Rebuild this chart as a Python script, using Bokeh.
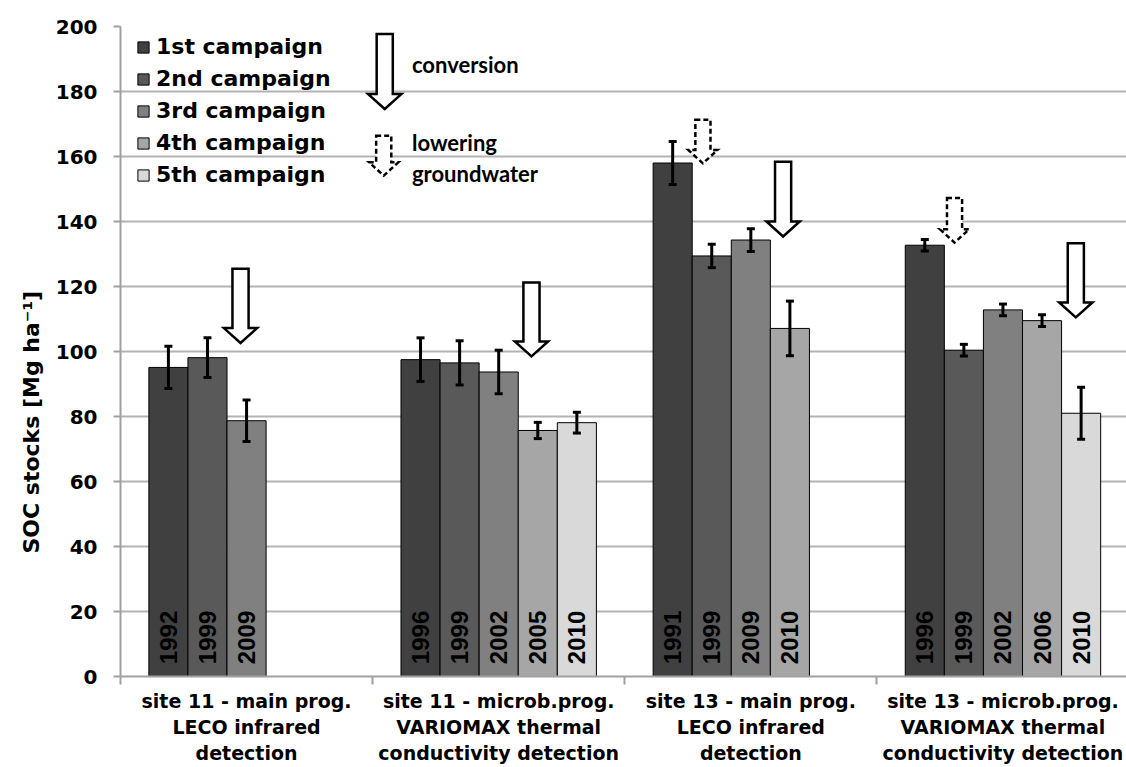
import math
from bokeh.plotting import figure
from bokeh.models import (ColumnDataSource, FixedTicker, Whisker, TeeHead,
                          Legend, LegendItem, Range1d, Title)
from bokeh.core.properties import value
from bokeh.embed import file_html
from bokeh.resources import INLINE

# ---------------- data ----------------
categories = [
    "site 11 - main prog.\nLECO infrared\ndetection",
    "site 11 - microb.prog.\nVARIOMAX thermal\nconductivity detection",
    "site 13 - main prog.\nLECO infrared\ndetection",
    "site 13 - microb.prog.\nVARIOMAX thermal\nconductivity detection",
]
campaigns = ["1st campaign", "2nd campaign", "3rd campaign", "4th campaign", "5th campaign"]
campaign_colors = ["#404040", "#595959", "#808080", "#a6a6a6", "#d9d9d9"]

bar_group = [0, 0, 0, 1, 1, 1, 1, 1, 2, 2, 2, 2, 3, 3, 3, 3, 3]
bar_campaign = [0, 1, 2, 0, 1, 2, 3, 4, 0, 1, 2, 3, 0, 1, 2, 3, 4]
bar_year = ["1992", "1999", "2009",
            "1996", "1999", "2002", "2005", "2010",
            "1991", "1999", "2009", "2010",
            "1996", "1999", "2002", "2006", "2010"]
soc = [95.1, 98.1, 78.7,
       97.5, 96.5, 93.7, 75.7, 78.1,
       158.0, 129.4, 134.3, 107.1,
       132.7, 100.4, 112.8, 109.5, 81.0]
soc_err = [6.5, 6.1, 6.4,
           6.7, 6.8, 6.7, 2.5, 3.2,
           6.6, 3.6, 3.5, 8.4,
           1.8, 1.8, 1.8, 1.8, 8.0]
y_ticks = [0, 20, 40, 60, 80, 100, 120, 140, 160, 180, 200]
y_title = "SOC stocks [Mg ha\u207b\u00b9]"

# annotation arrows (x in category units, top / tip in Mg ha-1)
conv_x = [0.476, 1.630, 2.628, 3.789]
conv_top = [125.5, 121.2, 158.4, 133.3]
conv_tip = [102.6, 98.5, 135.4, 110.5]
gw_x = [2.310, 3.308]
gw_top = [171.3, 147.2]
gw_tip = [157.9, 133.5]
# legend-side arrows and notes
key_conv = (1.048, 197.7, 174.6)
key_gw = (1.044, 166.4, 154.1)
note_x = 1.156
notes = ["conversion", "lowering", "groundwater"]
note_y = [188.4, 164.2, 154.9]

# ---------------- figure ----------------
BAR_W = 0.155
p = figure(width=1126, height=767, output_backend="svg", toolbar_location=None,
           x_range=Range1d(0, 3.99), y_range=Range1d(0, 200),
           min_border_left=120, min_border_right=0, min_border_top=26,
           min_border_bottom=91)
p.outline_line_color = None
p.background_fill_color = "white"

FONT = "DejaVu Sans"
GRID = "#b3b3b3"
AX = "#a0a0a0"

p.ygrid.grid_line_color = GRID
p.ygrid.grid_line_width = 2
p.xgrid.grid_line_color = None

p.yaxis.ticker = FixedTicker(ticks=y_ticks)
p.yaxis.major_label_text_font = FONT
p.yaxis.major_label_text_font_style = "bold"
p.yaxis.major_label_text_font_size = "20px"
p.yaxis.major_label_text_color = "black"
p.yaxis.major_tick_out = 7
p.yaxis.major_tick_in = 0
p.yaxis.minor_tick_out = 0
p.yaxis.minor_tick_in = 0
p.yaxis.major_label_standoff = 16
p.yaxis.axis_line_color = AX
p.yaxis.axis_line_width = 2
p.yaxis.major_tick_line_color = AX
p.yaxis.major_tick_line_width = 2

# y-axis title, placed lower than centre as in the original
p.add_layout(Title(text=y_title, align="left", offset=123, standoff=18,
                   text_font=FONT, text_font_style="bold",
                   text_font_size="22px", text_color="black"), "left")

centers = [i + 0.5 for i in range(len(categories))]
p.xaxis.ticker = FixedTicker(ticks=centers, minor_ticks=list(range(len(categories) + 1)))
p.xaxis.major_label_overrides = {c: lab for c, lab in zip(centers, categories)}
p.xaxis.major_label_text_font = FONT
p.xaxis.major_label_text_font_style = "bold"
p.xaxis.major_label_text_font_size = "19px"
p.xaxis.major_label_text_color = "black"
p.xaxis.major_tick_out = 0
p.xaxis.major_tick_in = 0
p.xaxis.minor_tick_out = 8
p.xaxis.minor_tick_in = 0
p.xaxis.minor_tick_line_color = AX
p.xaxis.minor_tick_line_width = 2
p.xaxis.major_label_standoff = 5
p.xaxis.axis_line_color = AX
p.xaxis.axis_line_width = 2

# ---------------- bars ----------------
bar_x = [g + 0.5 + (c - 2) * BAR_W for g, c in zip(bar_group, bar_campaign)]

legend_items = []
for ci, (name, col) in enumerate(zip(campaigns, campaign_colors)):
    idx = [i for i, c in enumerate(bar_campaign) if c == ci]
    src = ColumnDataSource(dict(x=[bar_x[i] for i in idx], top=[soc[i] for i in idx]))
    r = p.vbar(x="x", top="top", width=BAR_W, bottom=0, source=src,
               fill_color=col, line_color="black", line_width=1)
    legend_items.append(LegendItem(label=name, renderers=[r]))

err_src = ColumnDataSource(dict(
    x=bar_x,
    upper=[v + e for v, e in zip(soc, soc_err)],
    lower=[v - e for v, e in zip(soc, soc_err)],
))
whisk = Whisker(base="x", upper="upper", lower="lower", source=err_src,
                line_color="black", line_width=3, level="annotation",
                upper_head=TeeHead(size=8, line_width=3, line_color="black"),
                lower_head=TeeHead(size=8, line_width=3, line_color="black"))
p.add_layout(whisk)

year_src = ColumnDataSource(dict(x=bar_x, y=[3.8] * len(bar_x), t=bar_year))
p.text(x="x", y="y", text="t", source=year_src, angle=math.pi / 2,
       text_align="left", text_baseline="middle",
       text_font=value("Liberation Sans"), text_font_style="bold",
       text_font_size="24px", text_color="black")

# ---------------- arrows ----------------
def arrow(xc, top, tip, sw, hw, hh):
    base = tip + hh
    xs = [xc - sw, xc + sw, xc + sw, xc + hw, xc, xc - hw, xc - sw]
    ys = [top, top, base, base, tip, base, base]
    return xs, ys

cxs, cys = [], []
for xc, t, tp in list(zip(conv_x, conv_top, conv_tip)) + [key_conv]:
    a, b = arrow(xc, t, tp, 0.032, 0.066, 4.6)
    cxs.append(a); cys.append(b)
p.patches(cxs, cys, fill_color="white", line_color="black", line_width=2.5,
          line_join="miter")

gxs, gys = [], []
for xc, t, tp in list(zip(gw_x, gw_top, gw_tip)) + [key_gw]:
    a, b = arrow(xc, t, tp, 0.030, 0.058, 4.1)
    gxs.append(a); gys.append(b)
p.patches(gxs, gys, fill_color="white", line_color="black", line_width=2.5,
          line_dash="5 3", line_join="miter")

note_src = ColumnDataSource(dict(x=[note_x] * len(notes), y=note_y, t=notes))
p.text(x="x", y="y", text="t", source=note_src, text_align="left",
       text_baseline="alphabetic", text_font=value("Lato"),
       text_font_style="bold", text_font_size="22px", text_color="black")

# ---------------- legend ----------------
legend = Legend(items=legend_items, location=(16, 489), orientation="vertical",
                background_fill_alpha=0, border_line_alpha=0,
                label_text_font=FONT, label_text_font_style="bold",
                label_text_font_size="22px", label_text_color="black",
                glyph_width=14, glyph_height=14, label_standoff=6,
                spacing=7, padding=0, margin=0)
p.add_layout(legend)

open("out.html", "w").write(file_html(p, INLINE))
